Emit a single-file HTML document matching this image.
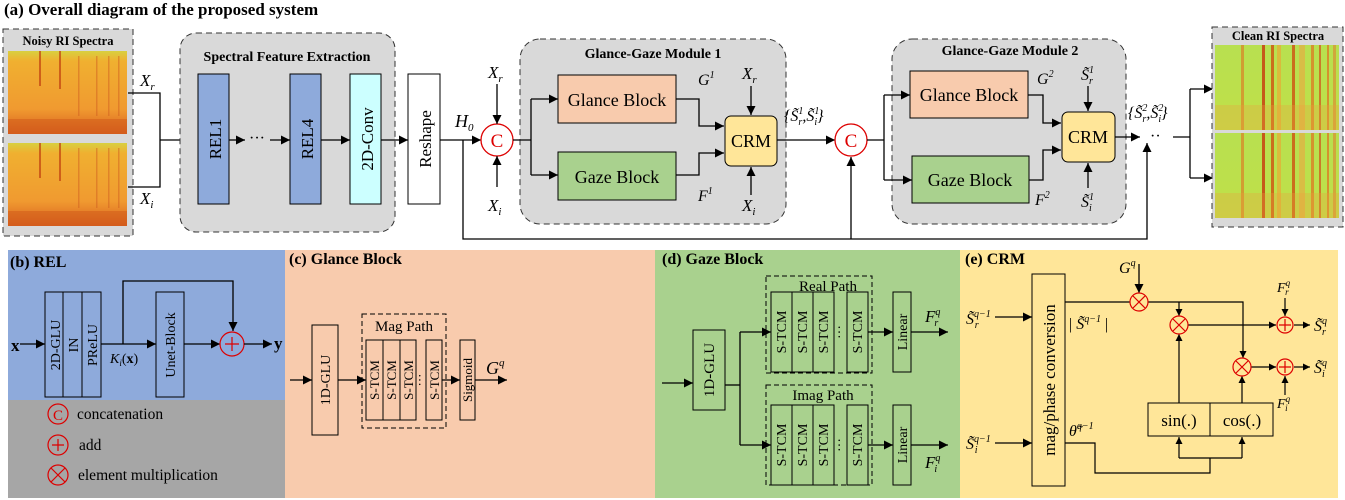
<!DOCTYPE html>
<html><head><meta charset="utf-8"><style>
html,body{margin:0;padding:0;background:#fff}
svg{display:block;font-family:"Liberation Serif",serif}
text{font-family:"Liberation Serif",serif;fill:#000}
.b{font-weight:bold}
.i{font-style:italic}
</style></head><body>
<svg width="1345" height="500" viewBox="0 0 1345 500" xmlns="http://www.w3.org/2000/svg" font-family="Liberation Serif, serif">
<defs>
<marker id="a" viewBox="0 0 10 10" refX="10" refY="5" markerWidth="9" markerHeight="9" markerUnits="userSpaceOnUse" orient="auto"><path d="M0,0L10,5L0,10z" fill="#000"/></marker>
<marker id="s" viewBox="0 0 10 10" refX="10" refY="5" markerWidth="7" markerHeight="7" markerUnits="userSpaceOnUse" orient="auto"><path d="M0,0L10,5L0,10z" fill="#000"/></marker>
<linearGradient id="ng" x1="0" y1="0" x2="0" y2="1"><stop offset="0" stop-color="#d8d040"/><stop offset="0.12" stop-color="#f0b030"/><stop offset="0.7" stop-color="#f09a30"/><stop offset="1" stop-color="#d86020"/></linearGradient>
<linearGradient id="cg" x1="0" y1="0" x2="0" y2="1"><stop offset="0" stop-color="#b8e050"/><stop offset="1" stop-color="#c0e048"/></linearGradient>
<g id="ns">
<rect width="119" height="83" fill="url(#ng)"/>
<rect x="31" y="0" width="2" height="35" fill="#c04010" opacity=".7"/><rect x="51" y="0" width="2" height="38" fill="#c04010" opacity=".7"/>
<rect x="70" y="5" width="1.5" height="60" fill="#d06020" opacity=".5"/><rect x="88" y="5" width="1.5" height="60" fill="#d06020" opacity=".5"/><rect x="100" y="5" width="1.5" height="60" fill="#d06020" opacity=".5"/><rect x="110" y="5" width="1.5" height="60" fill="#d06020" opacity=".5"/>
<rect x="0" y="68" width="119" height="15" fill="#d05818" opacity=".5"/>
</g>
<g id="cs">
<rect width="124" height="85" fill="url(#cg)"/>
<rect x="26" y="0" width="3" height="85" fill="#e07020" opacity=".6"/><rect x="47" y="0" width="3" height="85" fill="#c84010" opacity=".85"/>
<rect x="56" y="0" width="3" height="85" fill="#d05010" opacity=".8"/><rect x="62" y="0" width="4" height="85" fill="#f0a030" opacity=".6"/>
<rect x="77" y="0" width="3" height="85" fill="#d05010" opacity=".8"/><rect x="84" y="0" width="6" height="85" fill="#f0a040" opacity=".55"/>
<rect x="96" y="0" width="3" height="85" fill="#e07020" opacity=".7"/><rect x="104" y="0" width="2" height="85" fill="#d06020" opacity=".8"/>
<rect x="112" y="0" width="2" height="85" fill="#e07020" opacity=".7"/><rect x="118" y="0" width="3" height="85" fill="#e08030" opacity=".6"/>
<rect x="0" y="60" width="124" height="25" fill="#f0a040" opacity=".3"/>
</g>
</defs>

<!-- (a) -->
<text x="4" y="15" class="b" font-size="17">(a) Overall diagram of the proposed system</text>

<rect x="3" y="29" width="130" height="207" fill="#d9d9d9" stroke="#333" stroke-dasharray="6,4"/>
<text x="68" y="45" class="b" font-size="12.5" text-anchor="middle">Noisy RI Spectra</text>
<use href="#ns" x="8" y="51"/>
<use href="#ns" x="8" y="143"/>
<polyline points="128,93 160,93 160,187 128,187" fill="none" stroke="#000" stroke-width="1.3"/>
<text x="140" y="86" class="i" font-size="17">X<tspan font-size="11" dy="4">r</tspan></text>
<text x="140" y="204" class="i" font-size="17">X<tspan font-size="11" dy="4">i</tspan></text>
<line x1="160" y1="140" x2="197" y2="140" stroke="#000" stroke-width="1.3" marker-end="url(#a)"/>

<rect x="180" y="33" width="215" height="199" rx="16" fill="#d9d9d9" stroke="#333" stroke-dasharray="6,4"/>
<text x="287" y="61" class="b" font-size="14" text-anchor="middle">Spectral Feature Extraction</text>
<rect x="198" y="74" width="31" height="130" fill="#8eaadb" stroke="#000"/>
<rect x="290" y="74" width="31" height="130" fill="#8eaadb" stroke="#000"/>
<rect x="350" y="74" width="31" height="130" fill="#ccffff" stroke="#000"/>
<rect x="408" y="74" width="32" height="130" fill="#fff" stroke="#000"/>
<text transform="translate(221,139) rotate(-90)" font-size="17" text-anchor="middle">REL1</text>
<text transform="translate(313,139) rotate(-90)" font-size="17" text-anchor="middle">REL4</text>
<text transform="translate(373,139) rotate(-90)" font-size="17" text-anchor="middle">2D-Conv</text>
<text transform="translate(431,139) rotate(-90)" font-size="17" text-anchor="middle">Reshape</text>
<line x1="229" y1="140" x2="245" y2="140" stroke="#000" stroke-width="1.3" marker-end="url(#a)"/>
<text x="257" y="143" font-size="16" text-anchor="middle">···</text>
<line x1="270" y1="140" x2="290" y2="140" stroke="#000" stroke-width="1.3" marker-end="url(#a)"/>
<line x1="321" y1="140" x2="350" y2="140" stroke="#000" stroke-width="1.3" marker-end="url(#a)"/>
<line x1="381" y1="140" x2="408" y2="140" stroke="#000" stroke-width="1.3" marker-end="url(#a)"/>
<text x="455" y="127" class="i" font-size="18">H<tspan font-size="11" dy="4">0</tspan></text>
<line x1="440" y1="140" x2="481" y2="140" stroke="#000" stroke-width="1.3" marker-end="url(#a)"/>
<polyline points="463,140 463,239 1147,239 1147,143" fill="none" stroke="#000" stroke-width="1.3" marker-end="url(#a)"/>
<line x1="851" y1="239" x2="851" y2="157" stroke="#000" stroke-width="1.3" marker-end="url(#a)"/>

<circle cx="497" cy="140" r="16" fill="#fff" stroke="#d00" stroke-width="1.3"/>
<text x="497" y="147" style="fill:#d00" font-size="19" text-anchor="middle">C</text>
<text x="488" y="78" class="i" font-size="17">X<tspan font-size="11" dy="4">r</tspan></text>
<line x1="497" y1="84" x2="497" y2="124" stroke="#000" stroke-width="1.3" marker-end="url(#a)"/>
<text x="488" y="211" class="i" font-size="17">X<tspan font-size="11" dy="4">i</tspan></text>
<line x1="497" y1="187" x2="497" y2="156" stroke="#000" stroke-width="1.3" marker-end="url(#a)"/>

<!-- module 1 -->
<rect x="520" y="39" width="266" height="185" rx="20" fill="#d9d9d9" stroke="#333" stroke-dasharray="6,4"/>
<text x="653" y="58" class="b" font-size="14" text-anchor="middle">Glance-Gaze Module 1</text>
<rect x="558" y="75" width="118" height="48" fill="#f8cbad" stroke="#000"/>
<rect x="558" y="152" width="118" height="48" fill="#a9d18e" stroke="#000"/>
<text x="617" y="106" font-size="18" text-anchor="middle">Glance Block</text>
<text x="617" y="183" font-size="18" text-anchor="middle">Gaze Block</text>
<polyline points="513,140 531,140" fill="none" stroke="#000" stroke-width="1.3"/>
<polyline points="531,99 531,175" fill="none" stroke="#000" stroke-width="1.3"/>
<line x1="531" y1="99" x2="558" y2="99" stroke="#000" stroke-width="1.3" marker-end="url(#a)"/>
<line x1="531" y1="175" x2="558" y2="175" stroke="#000" stroke-width="1.3" marker-end="url(#a)"/>
<polyline points="676,99 699,99 699,126 724,126" fill="none" stroke="#000" stroke-width="1.3" marker-end="url(#a)"/>
<polyline points="676,175 699,175 699,153 724,153" fill="none" stroke="#000" stroke-width="1.3" marker-end="url(#a)"/>
<rect x="725" y="116" width="52" height="50" rx="6" fill="#ffe699" stroke="#000"/>
<text x="751" y="147" font-size="18" text-anchor="middle">CRM</text>
<text x="698" y="85" class="i" font-size="16">G<tspan font-size="10" dy="-7">1</tspan></text>
<text x="698" y="201" class="i" font-size="16">F<tspan font-size="10" dy="-7">1</tspan></text>
<text x="742" y="79" class="i" font-size="17">X<tspan font-size="11" dy="4">r</tspan></text>
<line x1="751" y1="86" x2="751" y2="115" stroke="#000" stroke-width="1.3" marker-end="url(#a)"/>
<text x="742" y="211" class="i" font-size="17">X<tspan font-size="11" dy="4">i</tspan></text>
<line x1="751" y1="195" x2="751" y2="167" stroke="#000" stroke-width="1.3" marker-end="url(#a)"/>
<line x1="777" y1="140" x2="835" y2="140" stroke="#000" stroke-width="1.3" marker-end="url(#a)"/>
<text x="784" y="121" class="i" font-size="16">{S̃<tspan font-size="10" dy="-7">1</tspan><tspan font-size="10" dx="-5" dy="11">r</tspan><tspan dy="-4">,S̃</tspan><tspan font-size="10" dy="-7">1</tspan><tspan font-size="10" dx="-5" dy="11">i</tspan><tspan dy="-4">}</tspan></text>

<circle cx="851" cy="140" r="16" fill="#fff" stroke="#d00" stroke-width="1.3"/>
<text x="851" y="147" style="fill:#d00" font-size="19" text-anchor="middle">C</text>

<!-- module 2 -->
<rect x="892" y="39" width="234" height="185" rx="20" fill="#d9d9d9" stroke="#333" stroke-dasharray="6,4"/>
<text x="1010" y="55" class="b" font-size="14" text-anchor="middle">Glance-Gaze Module 2</text>
<rect x="910" y="71" width="118" height="47" fill="#f8cbad" stroke="#000"/>
<rect x="912" y="156" width="117" height="47" fill="#a9d18e" stroke="#000"/>
<text x="969" y="101" font-size="18" text-anchor="middle">Glance Block</text>
<text x="970" y="186" font-size="18" text-anchor="middle">Gaze Block</text>
<polyline points="867,140 884,140" fill="none" stroke="#000" stroke-width="1.3"/>
<polyline points="884,95 884,180" fill="none" stroke="#000" stroke-width="1.3"/>
<line x1="884" y1="95" x2="910" y2="95" stroke="#000" stroke-width="1.3" marker-end="url(#a)"/>
<line x1="884" y1="180" x2="912" y2="180" stroke="#000" stroke-width="1.3" marker-end="url(#a)"/>
<polyline points="1028,95 1043,95 1043,123 1061,123" fill="none" stroke="#000" stroke-width="1.3" marker-end="url(#a)"/>
<polyline points="1029,180 1043,180 1043,150 1061,150" fill="none" stroke="#000" stroke-width="1.3" marker-end="url(#a)"/>
<rect x="1062" y="112" width="53" height="50" rx="6" fill="#ffe699" stroke="#000"/>
<text x="1088" y="143" font-size="18" text-anchor="middle">CRM</text>
<text x="1037" y="84" class="i" font-size="16">G<tspan font-size="10" dy="-7">2</tspan></text>
<text x="1035" y="205" class="i" font-size="16">F<tspan font-size="10" dy="-7">2</tspan></text>
<text x="1081" y="80" class="i" font-size="16">S̃<tspan font-size="10" dy="-7">1</tspan><tspan font-size="10" dx="-5" dy="11">r</tspan></text>
<line x1="1088" y1="86" x2="1088" y2="111" stroke="#000" stroke-width="1.3" marker-end="url(#a)"/>
<text x="1081" y="207" class="i" font-size="16">S̃<tspan font-size="10" dy="-7">1</tspan><tspan font-size="10" dx="-5" dy="11">i</tspan></text>
<line x1="1088" y1="188" x2="1088" y2="163" stroke="#000" stroke-width="1.3" marker-end="url(#a)"/>
<line x1="1115" y1="137" x2="1140" y2="137" stroke="#000" stroke-width="1.3" marker-end="url(#a)"/>
<text x="1128" y="118" class="i" font-size="16">{S̃<tspan font-size="10" dy="-7">2</tspan><tspan font-size="10" dx="-5" dy="11">r</tspan><tspan dy="-4">,S̃</tspan><tspan font-size="10" dy="-7">2</tspan><tspan font-size="10" dx="-5" dy="11">i</tspan><tspan dy="-4">}</tspan></text>
<text x="1150" y="141" font-size="16">··</text>
<polyline points="1173,137 1190,137" fill="none" stroke="#000" stroke-width="1.3"/>
<polyline points="1190,89 1190,178" fill="none" stroke="#000" stroke-width="1.3"/>
<line x1="1190" y1="89" x2="1213" y2="89" stroke="#000" stroke-width="1.3" marker-end="url(#a)"/>
<line x1="1190" y1="178" x2="1213" y2="178" stroke="#000" stroke-width="1.3" marker-end="url(#a)"/>

<rect x="1212" y="27" width="131" height="200" fill="#d9d9d9" stroke="#333" stroke-dasharray="6,4"/>
<text x="1278" y="40" class="b" font-size="12.5" text-anchor="middle">Clean RI Spectra</text>
<use href="#cs" x="1215" y="45"/>
<use href="#cs" x="1215" y="133"/>

<!-- (b) -->
<rect x="8" y="250" width="277" height="150" fill="#8eaadb"/>
<rect x="8" y="400" width="277" height="98" fill="#a6a6a6"/>
<text x="10" y="267" class="b" font-size="16">(b) REL</text>
<rect x="45" y="292" width="56" height="105" fill="none" stroke="#000"/>
<line x1="63" y1="292" x2="63" y2="397" stroke="#000"/><line x1="82" y1="292" x2="82" y2="397" stroke="#000"/>
<text transform="translate(60,345) rotate(-90)" font-size="14" text-anchor="middle">2D-GLU</text>
<text transform="translate(78,345) rotate(-90)" font-size="14" text-anchor="middle">IN</text>
<text transform="translate(97,345) rotate(-90)" font-size="14" text-anchor="middle">PReLU</text>
<text x="11" y="351" class="b" font-size="17">x</text>
<line x1="20" y1="344" x2="45" y2="344" stroke="#000" stroke-width="1.3" marker-end="url(#a)"/>
<line x1="101" y1="344" x2="156" y2="344" stroke="#000" stroke-width="1.3" marker-end="url(#a)"/>
<text x="110" y="363" class="i" font-size="14">K<tspan font-size="9" dy="3">i</tspan><tspan dy="-3" font-style="normal">(</tspan><tspan class="b" font-style="normal">x</tspan><tspan font-style="normal">)</tspan></text>
<polyline points="123,344 123,281 233,281 233,331" fill="none" stroke="#000" stroke-width="1.3" marker-end="url(#a)"/>
<rect x="156" y="292" width="28" height="105" fill="none" stroke="#000"/>
<text transform="translate(175,345) rotate(-90)" font-size="14" text-anchor="middle">Unet-Block</text>
<line x1="184" y1="344" x2="220" y2="344" stroke="#000" stroke-width="1.3" marker-end="url(#a)"/>
<circle cx="232" cy="344" r="12" fill="none" stroke="#d00" stroke-width="1.2"/>
<path d="M225,344h14M232,337v14" stroke="#d00" stroke-width="1.2"/>
<line x1="244" y1="344" x2="272" y2="344" stroke="#000" stroke-width="1.3" marker-end="url(#a)"/>
<text x="274" y="349" class="b" font-size="17">y</text>
<circle cx="58" cy="414" r="10" fill="none" stroke="#d00" stroke-width="1.2"/>
<text x="58" y="420" style="fill:#d00" font-size="15" text-anchor="middle">C</text>
<text x="77" y="419" font-size="15.5">concatenation</text>
<circle cx="58" cy="445" r="10" fill="none" stroke="#d00" stroke-width="1.2"/>
<path d="M52,445h12M58,439v12" stroke="#d00" stroke-width="1.2"/>
<text x="79" y="450" font-size="15.5">add</text>
<circle cx="58" cy="475" r="10" fill="none" stroke="#d00" stroke-width="1.2"/>
<path d="M51,468l14,14M65,468l-14,14" stroke="#d00" stroke-width="1.2"/>
<text x="78" y="480" font-size="15.5">element multiplication</text>

<!-- (c) -->
<rect x="285" y="250" width="370" height="248" fill="#f8cbad"/>
<text x="289" y="264" class="b" font-size="16">(c) Glance Block</text>
<line x1="290" y1="380" x2="312" y2="380" stroke="#000" stroke-width="1.3" marker-end="url(#a)"/>
<rect x="312" y="325" width="26" height="110" fill="none" stroke="#000"/>
<text transform="translate(330,380) rotate(-90)" font-size="14" text-anchor="middle">1D-GLU</text>
<line x1="338" y1="380" x2="366" y2="380" stroke="#000" stroke-width="1.3" marker-end="url(#a)"/>
<rect x="362" y="314" width="84" height="114" fill="none" stroke="#000" stroke-dasharray="5,3"/>
<text x="404" y="331" font-size="15" text-anchor="middle">Mag Path</text>
<rect x="366" y="340" width="50" height="80" fill="none" stroke="#000"/>
<line x1="383" y1="340" x2="383" y2="420" stroke="#000"/><line x1="400" y1="340" x2="400" y2="420" stroke="#000"/>
<rect x="426" y="340" width="16" height="80" fill="none" stroke="#000"/>
<text transform="translate(379,380) rotate(-90)" font-size="13" text-anchor="middle">S-TCM</text>
<text transform="translate(396,380) rotate(-90)" font-size="13" text-anchor="middle">S-TCM</text>
<text transform="translate(413,380) rotate(-90)" font-size="13" text-anchor="middle">S-TCM</text>
<text transform="translate(424,380) rotate(-90)" font-size="13" text-anchor="middle">···</text>
<text transform="translate(439,380) rotate(-90)" font-size="13" text-anchor="middle">S-TCM</text>
<line x1="442" y1="380" x2="460" y2="380" stroke="#000" stroke-width="1.3" marker-end="url(#a)"/>
<rect x="460" y="340" width="15" height="80" fill="none" stroke="#000"/>
<text transform="translate(472,380) rotate(-90)" font-size="13" text-anchor="middle">Sigmoid</text>
<line x1="475" y1="380" x2="507" y2="380" stroke="#000" stroke-width="1.3" marker-end="url(#a)"/>
<text x="486" y="374" class="i" font-size="18">G<tspan font-size="11" dy="-8">q</tspan></text>

<!-- (d) -->
<rect x="655" y="250" width="305" height="248" fill="#a9d18e"/>
<text x="662" y="264" class="b" font-size="16">(d) Gaze Block</text>
<line x1="662" y1="383" x2="693" y2="383" stroke="#000" stroke-width="1.3" marker-end="url(#a)"/>
<rect x="693" y="330" width="32" height="80" fill="none" stroke="#000"/>
<text transform="translate(714,370) rotate(-90)" font-size="15" text-anchor="middle">1D-GLU</text>
<polyline points="725,385 740,385" fill="none" stroke="#000" stroke-width="1.3"/>
<polyline points="740,332 740,445" fill="none" stroke="#000" stroke-width="1.3"/>
<line x1="740" y1="332" x2="771" y2="332" stroke="#000" stroke-width="1.3" marker-end="url(#a)"/>
<line x1="740" y1="445" x2="771" y2="445" stroke="#000" stroke-width="1.3" marker-end="url(#a)"/>
<rect x="766" y="276" width="106" height="97" fill="none" stroke="#000" stroke-dasharray="5,3"/>
<text x="828" y="291" font-size="15" text-anchor="middle">Real Path</text>
<rect x="766" y="385" width="106" height="100" fill="none" stroke="#000" stroke-dasharray="5,3"/>
<text x="823" y="400" font-size="15" text-anchor="middle">Imag Path</text>
<g>
<rect x="771" y="292" width="63" height="80" fill="none" stroke="#000"/>
<line x1="792" y1="292" x2="792" y2="372" stroke="#000"/><line x1="813" y1="292" x2="813" y2="372" stroke="#000"/>
<rect x="847" y="292" width="21" height="80" fill="none" stroke="#000"/>
<text transform="translate(786,332) rotate(-90)" font-size="14" text-anchor="middle">S-TCM</text>
<text transform="translate(807,332) rotate(-90)" font-size="14" text-anchor="middle">S-TCM</text>
<text transform="translate(828,332) rotate(-90)" font-size="14" text-anchor="middle">S-TCM</text>
<text transform="translate(844,332) rotate(-90)" font-size="14" text-anchor="middle">···</text>
<text transform="translate(862,332) rotate(-90)" font-size="14" text-anchor="middle">S-TCM</text>
</g>
<g>
<rect x="771" y="405" width="63" height="80" fill="none" stroke="#000"/>
<line x1="792" y1="405" x2="792" y2="485" stroke="#000"/><line x1="813" y1="405" x2="813" y2="485" stroke="#000"/>
<rect x="847" y="405" width="21" height="80" fill="none" stroke="#000"/>
<text transform="translate(786,445) rotate(-90)" font-size="14" text-anchor="middle">S-TCM</text>
<text transform="translate(807,445) rotate(-90)" font-size="14" text-anchor="middle">S-TCM</text>
<text transform="translate(828,445) rotate(-90)" font-size="14" text-anchor="middle">S-TCM</text>
<text transform="translate(844,445) rotate(-90)" font-size="14" text-anchor="middle">···</text>
<text transform="translate(862,445) rotate(-90)" font-size="14" text-anchor="middle">S-TCM</text>
</g>
<line x1="868" y1="332" x2="893" y2="332" stroke="#000" stroke-width="1.3" marker-end="url(#a)"/>
<line x1="868" y1="445" x2="893" y2="445" stroke="#000" stroke-width="1.3" marker-end="url(#a)"/>
<rect x="893" y="292" width="18" height="80" fill="none" stroke="#000"/>
<rect x="893" y="405" width="18" height="80" fill="none" stroke="#000"/>
<text transform="translate(907,332) rotate(-90)" font-size="14" text-anchor="middle">Linear</text>
<text transform="translate(907,445) rotate(-90)" font-size="14" text-anchor="middle">Linear</text>
<line x1="911" y1="332" x2="948" y2="332" stroke="#000" stroke-width="1.3" marker-end="url(#a)"/>
<line x1="911" y1="445" x2="948" y2="445" stroke="#000" stroke-width="1.3" marker-end="url(#a)"/>
<text x="925" y="322" class="i" font-size="17">F<tspan font-size="10" dy="-7">q</tspan><tspan font-size="10" dx="-6" dy="11">r</tspan></text>
<text x="925" y="468" class="i" font-size="17">F<tspan font-size="10" dy="-7">q</tspan><tspan font-size="10" dx="-6" dy="11">i</tspan></text>

<!-- (e) -->
<rect x="960" y="250" width="378" height="248" fill="#ffe699"/>
<text x="965" y="264" class="b" font-size="16">(e) CRM</text>
<rect x="1032" y="274" width="33" height="212" fill="none" stroke="#000"/>
<text transform="translate(1055,380) rotate(-90)" font-size="17" text-anchor="middle">mag/phase conversion</text>
<text x="966" y="324" class="i" font-size="16">S̃<tspan font-size="10" dy="-7">q−1</tspan><tspan font-size="10" dx="-16" dy="11">r</tspan></text>
<line x1="995" y1="317" x2="1032" y2="317" stroke="#000" stroke-width="1.3" marker-end="url(#a)"/>
<text x="966" y="449" class="i" font-size="16">S̃<tspan font-size="10" dy="-7">q−1</tspan><tspan font-size="10" dx="-16" dy="11">i</tspan></text>
<line x1="995" y1="443" x2="1032" y2="443" stroke="#000" stroke-width="1.3" marker-end="url(#a)"/>
<line x1="1065" y1="302" x2="1130" y2="302" stroke="#000" stroke-width="1.2"/>
<text x="1069" y="329" class="i" font-size="16"><tspan font-style="normal">|</tspan> S̃<tspan font-size="10" dy="-7">q−1</tspan><tspan dy="7" font-style="normal"> |</tspan></text>
<text x="1069" y="436" class="i" font-size="16">θ̃<tspan font-size="10" dy="-7">q−1</tspan></text>
<text x="1119" y="273" class="i" font-size="16">G<tspan font-size="10" dy="-7">q</tspan></text>
<line x1="1139" y1="264" x2="1139" y2="293" stroke="#000" stroke-width="1.3" marker-end="url(#a)"/>
<polyline points="1148,302 1243,302 1243,358" fill="none" stroke="#000" stroke-width="1.2" marker-end="url(#s)"/>
<line x1="1179" y1="302" x2="1179" y2="316" stroke="#000" stroke-width="1.2" marker-end="url(#s)"/>
<line x1="1188" y1="325" x2="1276" y2="325" stroke="#000" stroke-width="1.2" marker-end="url(#s)"/>
<line x1="1251" y1="367" x2="1276" y2="367" stroke="#000" stroke-width="1.2" marker-end="url(#s)"/>
<line x1="1294" y1="325" x2="1310" y2="325" stroke="#000" stroke-width="1.2" marker-end="url(#s)"/>
<line x1="1294" y1="367" x2="1310" y2="367" stroke="#000" stroke-width="1.2" marker-end="url(#s)"/>
<line x1="1285" y1="298" x2="1285" y2="316" stroke="#000" stroke-width="1.2" marker-end="url(#s)"/>
<line x1="1285" y1="395" x2="1285" y2="376" stroke="#000" stroke-width="1.2" marker-end="url(#s)"/>
<line x1="1179" y1="403" x2="1179" y2="334" stroke="#000" stroke-width="1.2" marker-end="url(#s)"/>
<line x1="1242" y1="403" x2="1242" y2="376" stroke="#000" stroke-width="1.2" marker-end="url(#s)"/>
<polyline points="1065,443 1095,443 1095,473 1210,473 1210,458" fill="none" stroke="#000" stroke-width="1.2"/>
<line x1="1179" y1="458" x2="1242" y2="458" stroke="#000" stroke-width="1.2"/>
<line x1="1179" y1="458" x2="1179" y2="437" stroke="#000" stroke-width="1.2" marker-end="url(#s)"/>
<line x1="1242" y1="458" x2="1242" y2="437" stroke="#000" stroke-width="1.2" marker-end="url(#s)"/>
<rect x="1148" y="403" width="125" height="33" fill="none" stroke="#000"/>
<line x1="1210" y1="403" x2="1210" y2="436" stroke="#000"/>
<text x="1179" y="426" font-size="17" text-anchor="middle">sin(.)</text>
<text x="1242" y="426" font-size="17" text-anchor="middle">cos(.)</text>
<g fill="none" stroke="#d00" stroke-width="1.2">
<circle cx="1139" cy="302" r="9"/><path d="M1133,296l12,12M1145,296l-12,12"/>
<circle cx="1179" cy="325" r="9"/><path d="M1173,319l12,12M1185,319l-12,12"/>
<circle cx="1242" cy="367" r="9"/><path d="M1236,361l12,12M1248,361l-12,12"/>
<circle cx="1285" cy="325" r="8"/><path d="M1279,325h12M1285,319v12"/>
<circle cx="1285" cy="367" r="8"/><path d="M1279,367h12M1285,361v12"/>
</g>
<text x="1277" y="292" class="i" font-size="14">F<tspan font-size="9" dy="-6">q</tspan><tspan font-size="9" dx="-5" dy="9">r</tspan></text>
<text x="1277" y="408" class="i" font-size="14">F<tspan font-size="9" dy="-6">q</tspan><tspan font-size="9" dx="-5" dy="9">i</tspan></text>
<text x="1314" y="331" class="i" font-size="16">S̃<tspan font-size="10" dy="-7">q</tspan><tspan font-size="10" dx="-5" dy="11">r</tspan></text>
<text x="1314" y="373" class="i" font-size="16">S̃<tspan font-size="10" dy="-7">q</tspan><tspan font-size="10" dx="-5" dy="11">i</tspan></text>
</svg>
</body></html>
